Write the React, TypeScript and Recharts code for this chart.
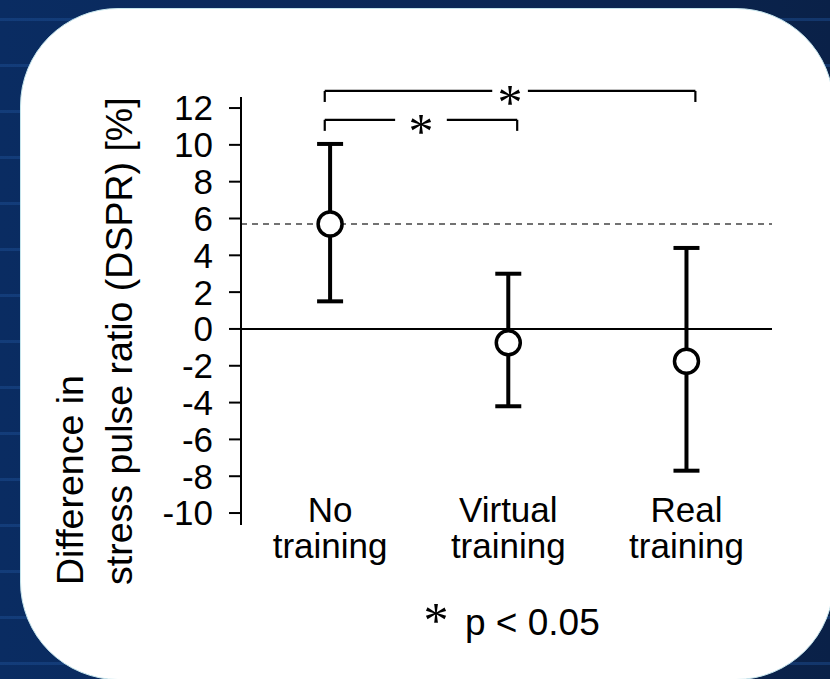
import { ComposedChart, Scatter, ErrorBar, XAxis, YAxis, ReferenceLine, ReferenceDot } from 'recharts';

// Values
const categories = ['No training', 'Virtual training', 'Real training'];
const means = [5.7, -0.75, -1.75];
const upperBounds = [10.05, 3.0, 4.4];
const lowerBounds = [1.5, -4.2, -7.7];
const yTicks = [-10, -8, -6, -4, -2, 0, 2, 4, 6, 8, 10, 12];

// significance brackets (category index from -> to, height in %)
const bracketFrom = [0, 0];
const bracketTo = [2, 1];
const bracketLevel = [12.93, 11.36];
const bracketLabel = ['*', '*'];

const data = categories.map((name, i) => ({
  pos: i + 0.5,
  name,
  mean: means[i],
  err: [means[i] - lowerBounds[i], upperBounds[i] - means[i]],
}));

const SANS = '"Liberation Sans", Arial, Helvetica, sans-serif';
const SERIF = '"Liberation Serif", "Times New Roman", serif';

// bracket drawing tweaks
const bracketDrop = 0.6;
const bracketGapHalf = [0.1, 0.145];

const CategoryTick = (props: any) => {
  const { x, y, payload } = props;
  const idx = Math.round(payload.value - 0.5);
  const words = (categories[idx] || '').split(' ');
  return (
    <g>
      {words.map((w, k) => (
        <text key={k} x={x} y={y - 3 + k * 36} textAnchor="middle" fontSize={35} fontFamily={SANS} fill="#000">
          {w}
        </text>
      ))}
    </g>
  );
};

const AsteriskLabel = (props: any) => {
  const { viewBox, value } = props;
  return (
    <text x={viewBox.x} y={viewBox.y + 28} textAnchor="middle" fontSize={50} fontFamily={SERIF} fill="#000">
      {value}
    </text>
  );
};

const YLabel = () => (
  <g fill="#000" fontFamily={SANS} fontSize={37.5}>
    <text x={83} y={585} transform="rotate(-90, 83, 585)" textAnchor="start">Difference in</text>
    <text x={132} y={585} transform="rotate(-90, 132, 585)" textAnchor="start">stress pulse ratio (DSPR) [%]</text>
  </g>
);

const Dot = (props: any) => {
  const { cx, cy } = props;
  return <circle cx={cx} cy={cy} r={12} fill="#fff" stroke="#000" strokeWidth={3.5} />;
};

const App = () => {
  const lineStyle = { stroke: '#000', strokeWidth: 2.2 };
  return (
    <div
      style={{
        position: 'absolute',
        left: 0,
        top: 0,
        width: 830,
        height: 679,
        overflow: 'hidden',
        background:
          'repeating-linear-gradient(180deg, rgba(0,0,0,0) 0px, rgba(0,0,0,0) 18px, rgba(30,80,150,0.45) 18px, rgba(30,80,150,0.45) 21px, rgba(0,0,0,0) 21px, rgba(0,0,0,0) 46px), linear-gradient(90deg, #0a2c62 0%, #0a2755 60%, #0a2148 100%)',
      }}
    >
      <div
        style={{
          position: 'absolute',
          left: 20,
          top: 8,
          width: 814,
          height: 672,
          borderRadius: 98,
          background: '#fff',
          border: '1.5px solid #c4e4ec',
          boxSizing: 'border-box',
        }}
      />
      <div style={{ position: 'absolute', left: 0, top: 0 }}>
        <ComposedChart width={830} height={679} data={data} margin={{ top: 97, right: 58, bottom: 94, left: 0 }}>
          <XAxis
            dataKey="pos"
            type="number"
            domain={[0, 2.98]}
            ticks={[0.5, 1.5, 2.5]}
            interval={0}
            axisLine={false}
            tickLine={false}
            tickSize={0}
            tickMargin={0}
            height={60}
            tick={<CategoryTick />}
            allowDataOverflow
          />
          <YAxis
            type="number"
            domain={[-10.65, 12.6]}
            ticks={yTicks}
            interval={0}
            width={241}
            axisLine={{ stroke: '#000', strokeWidth: 2 }}
            tickLine={{ stroke: '#000', strokeWidth: 2 }}
            tickSize={12}
            tickMargin={16}
            tick={{ fill: '#000', fontSize: 35, fontFamily: SANS }}
            allowDataOverflow
            label={<YLabel />}
          />
          <ReferenceLine y={0} stroke="#000" strokeWidth={2} />
          <ReferenceLine y={means[0]} stroke="#444" strokeWidth={1.5} strokeDasharray="6 5" />

          {bracketLevel.map((lvl, b) => {
            const x1 = bracketFrom[b] + 0.47;
            const x2 = bracketTo[b] + 0.55;
            const mid = (x1 + x2) / 2;
            const g = bracketGapHalf[b];
            return [
              <ReferenceLine key={`bl${b}`} ifOverflow="visible" {...lineStyle} segment={[{ x: x1, y: lvl - bracketDrop }, { x: x1, y: lvl }]} />,
              <ReferenceLine key={`ha${b}`} ifOverflow="visible" {...lineStyle} segment={[{ x: x1, y: lvl }, { x: mid - g, y: lvl }]} />,
              <ReferenceLine key={`hb${b}`} ifOverflow="visible" {...lineStyle} segment={[{ x: mid + g, y: lvl }, { x: x2, y: lvl }]} />,
              <ReferenceLine key={`br${b}`} ifOverflow="visible" {...lineStyle} segment={[{ x: x2, y: lvl - bracketDrop }, { x: x2, y: lvl }]} />,
              <ReferenceDot
                key={`st${b}`}
                x={mid}
                y={lvl}
                r={0}
                fill="none"
                stroke="none"
                ifOverflow="visible"
                label={<AsteriskLabel value={bracketLabel[b]} />}
              />,
            ];
          })}

          <Scatter dataKey="mean" shape={() => <g />} isAnimationActive={false}>
            <ErrorBar dataKey="err" direction="y" width={13} stroke="#000" strokeWidth={4} isAnimationActive={false} />
          </Scatter>
          <Scatter dataKey="mean" shape={<Dot />} isAnimationActive={false} />
        </ComposedChart>
      </div>
      <svg width={830} height={679} style={{ position: 'absolute', left: 0, top: 0, pointerEvents: 'none' }}>
        <text x={436} y={637} textAnchor="middle" fontSize={50} fontFamily={SERIF} fill="#000">*</text>
        <text x={465} y={635} fontSize={37} fontFamily={SANS} fill="#000">p &lt; 0.05</text>
      </svg>
    </div>
  );
};

export default App;
